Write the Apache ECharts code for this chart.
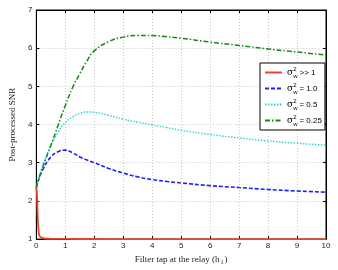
<!DOCTYPE html>
<html><head><meta charset="utf-8">
<script src="https://cdn.jsdelivr.net/npm/echarts@6/dist/echarts.min.js"></script>
<style>html,body{margin:0;padding:0;background:#fff}#c{width:338px;height:270px}</style>
</head><body><div id="c"></div>
<script>
// Data
const xs = [0,0.1,0.25,0.5,0.75,1,1.25,1.5,1.75,2,2.5,3,3.5,4,4.5,5,6,7,8,9,10];
const blueY  = [2.35,2.6,2.86,3.15,3.29,3.33,3.26,3.15,3.07,3.0,2.85,2.73,2.63,2.56,2.51,2.47,2.4,2.35,2.3,2.26,2.23];
const cyanY  = [2.35,2.62,2.98,3.45,3.8,4.05,4.2,4.29,4.33,4.32,4.24,4.14,4.06,3.99,3.92,3.85,3.74,3.65,3.57,3.51,3.46];
const greenY = [2.35,2.62,2.95,3.45,3.98,4.5,4.97,5.33,5.67,5.93,6.17,6.29,6.33,6.33,6.3,6.26,6.16,6.07,5.98,5.9,5.82];
const redX = [0,0.02,0.04,0.06,0.08,0.1,0.15,0.2,0.3,0.5,1,2,3,5,10];
const redY = [2.35,2.2,1.75,1.4,1.2,1.1,1.05,1.03,1.015,1.008,1.004,1.002,1.001,1.0,1.0];
const legendNames = ['s1','s2','s3','s4'];
const legendLabels = ['>> 1','= 1.0','= 0.5','= 0.25'];
const xTicks = [0,1,2,3,4,5,6,7,8,9,10];
const yTicks = [1,2,3,4,5,6,7];

const pair = (x, y) => x.map((v, i) => [v, y[i]]);
const chart = echarts.init(document.getElementById('c'), null, {renderer: 'canvas'});
const tickFont = {fontFamily: 'Liberation Sans, Arial, sans-serif', fontSize: 8, color: '#222'};
const gridLine = {show: true, lineStyle: {color: '#c8c8c8', type: [1, 2], width: 1}};
const baseAxis = {
  axisLine: {show: true, onZero: false, lineStyle: {color: '#000', width: 1}},
  axisTick: {show: true, inside: true, length: 3, lineStyle: {color: '#000'}},
};
chart.setOption({
  animation: false,
  backgroundColor: '#fff',
  grid: {left: 26, right: 12, top: 10, bottom: 21, show: true, borderColor: '#000', borderWidth: 1},
  xAxis: [
    Object.assign({}, baseAxis, {type: 'value', min: 0, max: 10, interval: 1, position: 'bottom',
      axisLabel: Object.assign({margin: 3, formatter: v => xTicks.includes(v) ? String(v) : ''}, tickFont),
      splitLine: gridLine,
      name: '{a|Filter tap at the relay (h}{s|1}{a|)}', nameLocation: 'middle', nameGap: 10,
      nameTextStyle: {rich: {a: {fontFamily: 'Liberation Serif, Times New Roman, serif', fontSize: 9, color: '#222'},
                             s: {fontFamily: 'Liberation Serif, serif', fontSize: 6, color: '#222', padding: [5,1,0,1]}}}}),
    Object.assign({}, baseAxis, {type: 'value', min: 0, max: 10, interval: 1, position: 'top',
      axisLabel: {show: false}, splitLine: {show: false}})
  ],
  yAxis: [
    Object.assign({}, baseAxis, {type: 'value', min: 1, max: 7, interval: 1, position: 'left',
      axisLabel: Object.assign({margin: 4, formatter: v => yTicks.includes(v) ? String(v) : ''}, tickFont),
      splitLine: gridLine,
      name: 'Post-processed SNR', nameLocation: 'middle', nameGap: 14,
      nameTextStyle: {fontFamily: 'Liberation Serif, Times New Roman, serif', fontSize: 9, color: '#222'}}),
    Object.assign({}, baseAxis, {type: 'value', min: 1, max: 7, interval: 1, position: 'right',
      axisLabel: {show: false}, splitLine: {show: false}})
  ],
  legend: {
    data: legendNames,
    orient: 'vertical', left: 260, top: 63,
    backgroundColor: '#fff', borderColor: '#000', borderWidth: 1, borderRadius: 0,
    padding: [3, 3, 3, 4],
    itemWidth: 17, itemHeight: 10, itemGap: 3,
    itemStyle: {opacity: 0},
    formatter: name => {
      const i = legendNames.indexOf(name);
      return '{g|σ}{sup|2}{sub|w}{t|' + legendLabels[i] + '}';
    },
    textStyle: {
      rich: {
        g: {fontFamily: 'DejaVu Serif, serif', fontSize: 9, color: '#000'},
        sup: {fontFamily: 'Liberation Sans, sans-serif', fontSize: 6, color: '#000', width: 0, padding: [0,0,7,0]},
        sub: {fontFamily: 'Liberation Sans, sans-serif', fontSize: 6, color: '#000', padding: [7,0,0,0]},
        t: {fontFamily: 'Liberation Sans, sans-serif', fontSize: 8, color: '#000', padding: [0,0,0,2]}
      }
    }
  },
  series: [
    {name: 's1', type: 'line', symbol: 'none', smooth: true, data: pair(redX, redY), z: 5,
     lineStyle: {color: '#e8452c', width: 1.8, type: 'solid'}, itemStyle: {color: '#e8452c'}},
    {name: 's2', type: 'line', symbol: 'none', smooth: true, data: pair(xs, blueY),
     lineStyle: {color: '#1f1fff', width: 1.6, type: [4, 2]}, itemStyle: {color: '#1f1fff'}},
    {name: 's3', type: 'line', symbol: 'none', smooth: true, data: pair(xs, cyanY),
     lineStyle: {color: '#2ed0d0', width: 1.4, type: [1.5, 1.5]}, itemStyle: {color: '#2ed0d0'}},
    {name: 's4', type: 'line', symbol: 'none', smooth: true, data: pair(xs, greenY),
     lineStyle: {color: '#138a13', width: 1.5, type: [5, 2, 1.5, 2]}, itemStyle: {color: '#138a13'}}
  ]
});
</script></body></html>
